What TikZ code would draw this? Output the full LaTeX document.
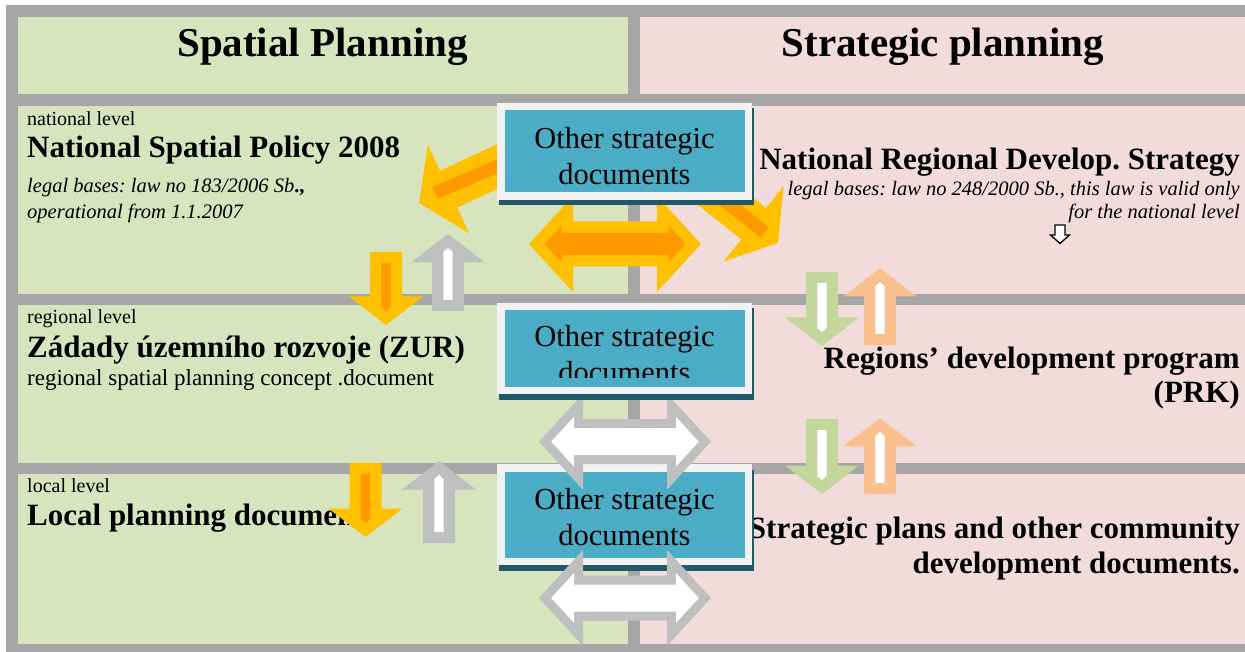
\documentclass[tikz,border=0pt]{standalone}
\usepackage{fontspec}
\setmainfont{Liberation Serif}
\frenchspacing
\definecolor{framegray}{HTML}{A6A6A6}
\definecolor{cellgreen}{HTML}{D7E4BD}
\definecolor{cellpink}{HTML}{F2DCDB}
\definecolor{boxblue}{HTML}{4BACC6}
\definecolor{boxwhite}{HTML}{F2F2F2}
\definecolor{boxshadow}{HTML}{215968}
\definecolor{arrowyellow}{HTML}{FFC000}
\definecolor{arroworange}{HTML}{FF9900}
\definecolor{arrowgray}{HTML}{BFBFBF}
\definecolor{arrowgreen}{HTML}{C3D69B}
\definecolor{arrowpeach}{HTML}{FAC090}

\begin{document}
\begin{tikzpicture}[x=1pt, y=-1pt,
    lvl/.style={inner sep=0pt, anchor=base west, font=\fontsize{20}{24}\selectfont},
    ttl/.style={inner sep=0pt, font=\fontsize{31}{37}\selectfont\bfseries},
    law/.style={inner sep=0pt, font=\fontsize{20.5}{25}\selectfont\itshape},
    hdr/.style={inner sep=0pt, anchor=base, font=\fontsize{41}{49}\selectfont\bfseries},
    docbox/.style={draw=boxwhite, line width=7.5pt, fill=boxblue, minimum width=247.5pt, inner sep=0pt,
      preaction={draw=boxshadow, fill=boxshadow, transform canvas={shift={(2pt,-5.5pt)}}}},
    doctext/.style={inner sep=0pt, align=center, font=\fontsize{30.5}{36}\selectfont},
    pics/blockarrow/.style n args={3}{code={
      \fill[#1] (-16,0) -- (16,0) -- (16,#3-28.5) -- (37,#3-28.5) -- (0,#3) -- (-37,#3-28.5) -- (-16,#3-28.5) -- cycle;
      \fill[#2] (-4.7,11) -- (4.7,11) -- (4.7,#3-18) -- (0,#3-14) -- (-4.7,#3-18) -- cycle;
    }},
    pics/dblarrow/.style n args={3}{code={
      \fill[#1] (-86,0) -- (-42,-48) -- (-42,-22.5) -- (42,-22.5) -- (42,-48) -- (86,0)
        -- (42,48) -- (42,22.5) -- (-42,22.5) -- (-42,48) -- cycle;
      \fill[#2] ({-86+1.357*#3},0) -- ({-42-#3},{-48+2.571*#3}) -- ({-42-#3},{-22.5+#3})
        -- ({42+#3},{-22.5+#3}) -- ({42+#3},{-48+2.571*#3}) -- ({86-1.357*#3},0)
        -- ({42+#3},{48-2.571*#3}) -- ({42+#3},{22.5-#3}) -- ({-42-#3},{22.5-#3})
        -- ({-42-#3},{48-2.571*#3}) -- cycle;
    }}
  ]
  \useasboundingbox (0,0) rectangle (1245,652);
  \fill[white] (0,0) rectangle (1245,652);

  % table frame
  \fill[framegray] (6,5) rectangle (1245,652);
  \foreach \top/\bot in {17/94.5, 106/294, 305/462.5, 474/644} {
    \fill[cellgreen] (17.5,\top) rectangle (628,\bot);
    \fill[cellpink] (640,\top) rectangle (1245,\bot);
  }

  \node[hdr] (spatial) at (322.5,57) {Spatial Planning};
  \node[hdr] (strategic) at (943,57) {Strategic planning};

  % spatial planning column
  \node[lvl] (natlvl) at (27,126) {national level};
  \node[ttl, anchor=base west] (nsp) at (27,157.7) {National Spatial Policy 2008};
  \node[law, anchor=base west] (nspLaw) at (27,192.7) {legal bases: law no 183/2006 Sb\textup{\bfseries .,}};
  \node[law, anchor=base west] (nspOp) at (27,218.3) {operational from 1.1.2007};
  \node[lvl] (reglvl) at (27,323.3) {regional level};
  \node[ttl, anchor=base west] (zur) at (27,357.3) {Zádady územního rozvoje (ZUR)};
  \node[inner sep=0pt, anchor=base west, font=\fontsize{23}{28}\selectfont] (zurDesc) at (27,385) {regional spatial planning concept .document};
  \node[lvl] (loclvl) at (27,492.3) {local level};
  \node[ttl, anchor=base west] (lpd) at (27,525.7) {Local planning documents};

  % strategic planning column
  \node[ttl, anchor=base east] (nrds) at (1240,170) {National Regional Develop. Strategy};
  \node[law, anchor=base east] (nrdsLaw) at (1240,196) {legal bases: law no 248/2000 Sb., this law is valid only};
  \node[law, anchor=base east] (nrdsLawb) at (1240,218.3) {for the national level};
  \draw[line width=1.3pt, fill=white] (1055,225) -- (1065,225) -- (1065,235) -- (1069.5,235) -- (1060,243.5)
    -- (1050.5,235) -- (1055,235) -- cycle;
  \node[ttl, anchor=base east] (rdp) at (1240,368.3) {Regions’ development program};
  \node[ttl, anchor=base east] (rdpb) at (1240,402.7) {(PRK)};
  \node[ttl, anchor=base east] (spc) at (1240,538.3) {Strategic plans and other community};
  \node[ttl, anchor=base east] (spcb) at (1240,573.3) {development documents.};

  \node[docbox, minimum height=93.5pt] (osd3) at (624.5,514.5) {};
  \node[doctext] (osd3txt) at (624.5,517.4) {Other strategic\\documents};

  % vertical arrows
  \pic at (386,252) {blockarrow={arrowyellow}{arroworange}{73}};
  \pic[rotate=180] at (448,311) {blockarrow={arrowgray}{white}{77}};
  \pic at (365.5,463) {blockarrow={arrowyellow}{arroworange}{74}};
  \pic[rotate=180] at (439,543) {blockarrow={arrowgray}{white}{82}};
  \pic at (822,272) {blockarrow={arrowgreen}{white}{74}};
  \pic[rotate=180] at (880,345) {blockarrow={arrowpeach}{white}{77}};
  \pic at (822,419) {blockarrow={arrowgreen}{white}{75}};
  \pic[rotate=180] at (880,494) {blockarrow={arrowpeach}{white}{76}};

  % diagonal arrows
  \fill[arrowyellow] (419,203) -- (428,145.1) -- (440,170.8) -- (512.6,137) -- (529.8,173.8)
    -- (457.2,207.6) -- (469.2,233.3) -- cycle;
  \draw[arroworange, line width=13pt] (435,193) -- (503,164);
  \fill[arrowyellow] (778,243) -- (783.6,186.1) -- (766.1,208) -- (703.5,158.3) -- (678.7,189.7)
    -- (741.3,239.4) -- (723.8,261.3) -- cycle;
  \draw[arroworange, line width=13pt] (764.7,232.4) -- (706.7,186.4);

  % double arrows
  \pic at (615,244) {dblarrow={arrowyellow}{arroworange}{11.5}};
  \pic at (625,441.7) {dblarrow={arrowgray}{white}{9}};
  \pic at (625,598) {dblarrow={arrowgray}{white}{9}};

  \node[docbox, minimum height=89.5pt] (osd1) at (624.5,151.5) {};
  \node[doctext] (osd1txt) at (624.5,155.7) {Other strategic\\documents};
  \node[docbox, minimum height=83.5pt] (osd2) at (624.5,348.5) {};
  \begin{scope}
    \clip (504,311) rectangle (744,377);
    \node[doctext] (osd2txt) at (624.5,354) {Other strategic\\documents};
  \end{scope}
\end{tikzpicture}
\end{document}
